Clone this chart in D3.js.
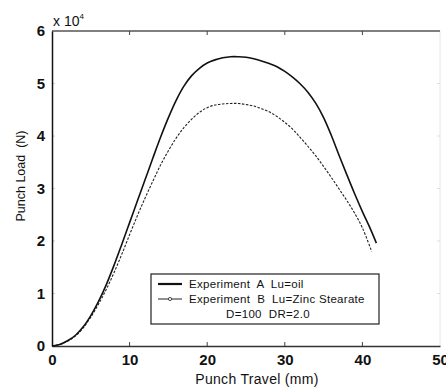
<!DOCTYPE html>
<html><head><meta charset="utf-8">
<script src="https://cdn.jsdelivr.net/npm/d3@7"></script>
<style>html,body{margin:0;padding:0;background:#fff;}svg{display:block;} text{white-space:pre;}</style>
</head><body>
<svg id="c" width="446" height="388"></svg>
<script>
const xTicks = [0, 10, 20, 30, 40, 50];
const yTicks = [0, 1, 2, 3, 4, 5, 6];
const travelA = [0,1,2,3,4,5,6,7,8,9,10,11,12,13,14,15,16,17,18,19,20,21,22,23,24,25,26,27,28,29,30,31,32,33,34,35,36,37,38,39,40,41,41.8];
const loadA   = [0,0.03,0.1,0.2,0.36,0.58,0.85,1.17,1.54,1.94,2.35,2.76,3.17,3.58,3.98,4.35,4.68,4.95,5.15,5.29,5.39,5.45,5.49,5.51,5.51,5.5,5.47,5.43,5.38,5.32,5.23,5.12,4.99,4.83,4.62,4.35,4.01,3.63,3.26,2.9,2.56,2.24,1.96];
const travelB = [0,1,2,3,4,5,6,7,8,9,10,11,12,13,14,15,16,17,18,19,20,21,22,23,24,25,26,27,28,29,30,31,32,33,34,35,36,37,38,39,40,41.2];
const loadB   = [0,0.03,0.09,0.19,0.34,0.55,0.8,1.08,1.4,1.75,2.12,2.48,2.82,3.14,3.45,3.72,3.96,4.16,4.32,4.45,4.54,4.59,4.61,4.62,4.62,4.6,4.57,4.52,4.46,4.37,4.26,4.13,3.97,3.8,3.62,3.42,3.21,2.99,2.77,2.53,2.25,1.8];
const legendLabels = ["Experiment  A  Lu=oil", "Experiment  B  Lu=Zinc Stearate", "D=100  DR=2.0"];

const svg = d3.select("#c");
const L = 52, R = 440, T = 31, B = 346;
const x = d3.scaleLinear().domain([0, 50]).range([L, R]);
const y = d3.scaleLinear().domain([0, 6]).range([B, T]);
const font = "'Liberation Sans', Arial, sans-serif";

// frame
svg.append("line").attr("x1", R).attr("x2", R).attr("y1", T).attr("y2", B).attr("stroke", "#e6e6e6");
svg.append("line").attr("x1", L).attr("x2", R).attr("y1", T).attr("y2", T).attr("stroke", "#555").attr("stroke-width", 1.5);

// inner ticks
const g = svg.append("g");
xTicks.slice(1, -1).forEach(v => {
  g.append("line").attr("x1", x(v)).attr("x2", x(v)).attr("y1", B).attr("y2", B - 4).attr("stroke", "#444");
  g.append("line").attr("x1", x(v)).attr("x2", x(v)).attr("y1", T).attr("y2", T + 4).attr("stroke", "#444");
});
yTicks.slice(1, -1).forEach(v => {
  g.append("line").attr("x1", L).attr("x2", L + 3).attr("y1", y(v)).attr("y2", y(v)).attr("stroke", "#ccc");
  g.append("line").attr("x1", R).attr("x2", R - 3).attr("y1", y(v)).attr("y2", y(v)).attr("stroke", "#ddd");
});

// axes
const xAxis = svg.append("g").attr("transform", `translate(0,${B})`)
  .call(d3.axisBottom(x).tickValues(xTicks).tickSize(0).tickPadding(8).tickFormat(d3.format("d")));
xAxis.select(".domain").attr("stroke", "#333").attr("stroke-width", 1.5);
xAxis.selectAll("text").attr("font-family", font).attr("font-size", 15).attr("font-weight", "bold").attr("fill", "#111");

const yAxis = svg.append("g").attr("transform", `translate(${L},0)`)
  .call(d3.axisLeft(y).tickValues(yTicks).tickSize(0).tickPadding(7).tickFormat(d3.format("d")));
yAxis.select(".domain").attr("stroke", "#111").attr("stroke-width", 1.5);
yAxis.selectAll("text").attr("font-family", font).attr("font-size", 15).attr("font-weight", "bold").attr("fill", "#111");

// exponent label
const ex = svg.append("text").attr("x", 53).attr("y", 26).attr("font-family", font).attr("font-size", 14).attr("fill", "#111");
ex.append("tspan").text("x 10");
ex.append("tspan").attr("dy", -7).attr("font-size", 8).text("4");

// axis titles
svg.append("text").attr("x", 257).attr("y", 384).attr("text-anchor", "middle")
  .attr("font-family", font).attr("font-size", 14).attr("letter-spacing", 0.3).attr("fill", "#111").text("Punch Travel (mm)");
svg.append("text").attr("transform", "translate(25,176) rotate(-90)").attr("text-anchor", "middle")
  .attr("font-family", font).attr("font-size", 12.5).attr("fill", "#111").text("Punch Load  (N)");

// curves
const line = d3.line().x(d => x(d[0])).y(d => y(d[1])).curve(d3.curveCatmullRom.alpha(0.5));
const dataA = travelA.map((t, i) => [t, loadA[i]]);
const dataB = travelB.map((t, i) => [t, loadB[i]]);
svg.append("path").datum(dataB).attr("d", line).attr("fill", "none")
  .attr("stroke", "#222").attr("stroke-width", 1.1).attr("stroke-dasharray", "2.5,1.5");
svg.append("path").datum(dataA).attr("d", line).attr("fill", "none")
  .attr("stroke", "#111").attr("stroke-width", 1.6);

// legend
const lg = svg.append("g");
lg.append("rect").attr("x", 151).attr("y", 274).attr("width", 228).attr("height", 50)
  .attr("fill", "#fff").attr("stroke", "#222").attr("stroke-width", 1.2);
lg.append("line").attr("x1", 158).attr("x2", 182).attr("y1", 284).attr("y2", 284).attr("stroke", "#111").attr("stroke-width", 2.2);
lg.append("line").attr("x1", 158).attr("x2", 182).attr("y1", 299).attr("y2", 299).attr("stroke", "#222").attr("stroke-width", 1);
lg.append("circle").attr("cx", 170).attr("cy", 299).attr("r", 1.6).attr("fill", "#fff").attr("stroke", "#222").attr("stroke-width", 0.8);
lg.selectAll("text.lt").data(legendLabels).enter().append("text")
  .attr("x", (d, i) => i < 2 ? 189 : 268).attr("y", (d, i) => 288 + i * 15)
  .attr("text-anchor", (d, i) => i < 2 ? "start" : "middle")
  .attr("font-family", font).attr("font-size", 11.5).attr("letter-spacing", 0.3).attr("fill", "#111").text(d => d);
</script>
</body></html>
